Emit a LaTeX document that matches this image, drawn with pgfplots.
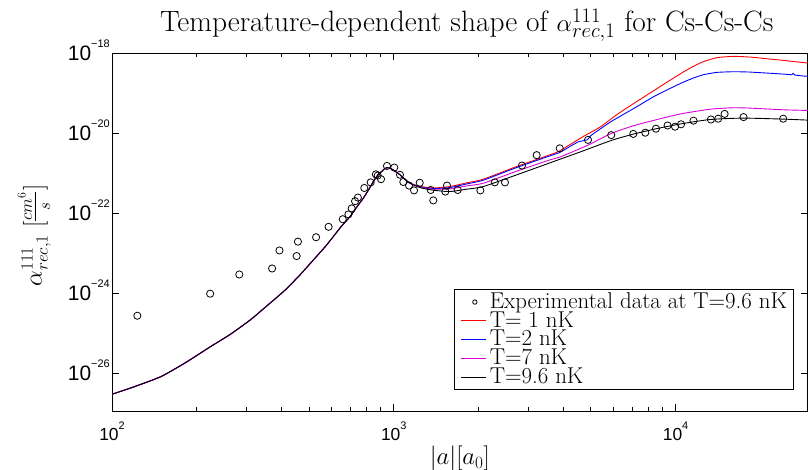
\documentclass[border=0pt]{standalone}
\usepackage{pgfplots}
\pgfplotsset{compat=1.18}
\usepackage{fontspec}
\newfontfamily\hel{Liberation Sans}
\definecolor{mymag}{rgb}{0.85,0,0.85}
\newcommand{\tk}[4]{\mbox{\hel\fontsize{#1}{#1}\selectfont 10\raisebox{#3}{\fontsize{#2}{#2}\selectfont #4}}}
\begin{document}
\begin{tikzpicture}
\useasboundingbox (0bp,0bp) rectangle (808bp,470bp);
\begin{axis}[
  at={(112bp,59bp)}, anchor=south west,
  width=695.5bp, height=358bp, scale only axis,
  xmode=log, ymode=log,
  xmin=100, xmax=29400, ymin=1.15e-27, ymax=1e-18,
  axis line style={line width=1bp, black},
  tick style={line width=0.8bp, black},
  major tick length=7bp, minor tick length=4bp,
  ytick={1e-26,1e-24,1e-22,1e-20,1e-18},
  yminorticks=false,
  yticklabels={\tk{21}{11}{13bp}{−26},\tk{21}{11}{13bp}{−24},\tk{21}{11}{13bp}{−22},\tk{21}{11}{13bp}{−20},\tk{21}{11}{13bp}{−18}},
  yticklabel style={anchor=base east, yshift=-7.6bp, inner sep=2bp},
  xtick={100,1000,10000},
  xticklabels={\tk{17.5}{11}{11bp}{2},\tk{17.5}{11}{11bp}{3},\tk{17.5}{11}{11bp}{4}},
  xticklabel style={anchor=base, yshift=-29.3bp, inner sep=0bp},
  every axis title/.style={at={(axis description cs:0.5,1)}, anchor=base, yshift=22bp, xshift=7bp, font=\fontsize{29.5}{32}\selectfont},
  title={Temperature-dependent shape of $\alpha^{111}_{rec,1}$ for Cs-Cs-Cs},
  every axis x label/.style={at={(axis description cs:0.5,0)}, anchor=base, yshift=-53.5bp, font=\fontsize{25}{30}\selectfont},
  xlabel={$|a|[a_0]$},
  every axis y label/.style={at={(axis description cs:-0.1115,0.49)}, anchor=center, rotate=90, font=\fontsize{24}{28}\selectfont},
  ylabel={$\alpha^{111}_{rec,1}\;\Biggl[\frac{cm^6}{s}\Biggr]$},
  legend style={at={(axis description cs:0.980,0.0587)}, anchor=south east,
    font=\fontsize{23}{23}\selectfont, line width=1bp,
    inner xsep=6bp, inner ysep=3bp, row sep=0.3bp,
    nodes={inner sep=0bp, text height=15.5bp, text depth=3bp}},
  legend cell align=left,
]
\addlegendimage{legend image code/.code={\draw[draw=black, line width=0.8bp] (13.5bp,0bp) circle (2.2bp); \path[draw=none] (0bp,0bp) (28.4bp,0bp);}}
\addlegendentry{Experimental data at T=9.6 nK}
\addlegendimage{legend image code/.code={\draw[draw=red, line width=1.1bp] (0bp,0bp) -- (25bp,0bp); \path[draw=none] (28.4bp,0bp);}}
\addlegendentry{T= 1 nK}
\addlegendimage{legend image code/.code={\draw[draw=blue, line width=1.1bp] (0bp,0bp) -- (25bp,0bp); \path[draw=none] (28.4bp,0bp);}}
\addlegendentry{T=2 nK}
\addlegendimage{legend image code/.code={\draw[draw=mymag, line width=1.1bp] (0bp,0bp) -- (25bp,0bp); \path[draw=none] (28.4bp,0bp);}}
\addlegendentry{T=7 nK}
\addlegendimage{legend image code/.code={\draw[draw=black, line width=1.1bp] (0bp,0bp) -- (25bp,0bp); \path[draw=none] (28.4bp,0bp);}}
\addlegendentry{T=9.6 nK}
\addplot[only marks, mark=o, mark size=3.6bp, line width=0.8bp, black, forget plot]
  coordinates {
  (123,2.754e-25) (223,9.77e-25) (283,2.951e-24) (370,4.169e-24) (393,1.175e-23)
  (452,8.51e-24) (457,1.95e-23) (530,2.512e-23) (587,4.571e-23) (659,7.079e-23)
  (690,9.333e-23) (709,1.318e-22) (729,1.995e-22) (746,2.455e-22) (786,4.266e-22)
  (828,5.888e-22) (864,9.333e-22) (877,8.710e-22) (901,7.079e-22) (946,1.514e-21)
  (1004,1.380e-21) (1052,9.12e-22) (1081,6.026e-22) (1133,4.898e-22) (1180,3.715e-22)
  (1236,5.754e-22) (1352,3.802e-22) (1381,2.089e-22) (1524,3.467e-22) (1545,4.898e-22)
  (1686,3.802e-22) (2029,3.715e-22) (2282,5.888e-22) (2481,5.888e-22) (2851,1.549e-21)
  (3215,2.818e-21) (3882,4.169e-21) (4889,6.761e-21) (5912,8.913e-21) (7080,9.55e-21)
  (7810,1.023e-20) (8520,1.288e-20) (9370,1.549e-20) (9960,1.445e-20) (10460,1.660e-20)
  (11580,2.042e-20) (13350,2.188e-20) (14170,2.291e-20) (14930,3.020e-20) (17430,2.512e-20)
  (24100,2.291e-20)
  };
\addplot[color=red, line width=0.9bp, smooth, tension=0.4, forget plot] coordinates {
  (100,3.02e-27) (115.9,4.27e-27) (136.4,6.46e-27) (151.7,8.81e-27) (181.6,1.82e-26) (222.7,4.57e-26) (262.2,9.33e-26) (308.9,2.14e-25) (357.8,5.13e-25) (411.2,1.20e-24) (464.7,2.88e-24) (518.0,6.76e-24) (570.1,1.44e-23) (610.0,2.60e-23) (649.5,4.57e-23) (699.3,8.22e-23) (740.4,1.45e-22) (779.5,2.37e-22) (813.3,3.80e-22) (845.9,6.17e-22) (879.0,9.12e-22) (906.1,1.10e-21) (926.9,1.29e-21) (946.0,1.38e-21) (969.4,1.33e-21) (995.9,1.20e-21) (1052,9.12e-22) (1096,7.00e-22) (1141,5.62e-22)
  (1239,4.677e-22) (1381,4.266e-22) (1583,4.634e-22) (1814,5.728e-22) (2078,7.063e-22) (2730,1.466e-21) (3583,2.868e-21) (3879,3.606e-21) (4705,8.238e-21) (5392,1.409e-20) (6180,2.868e-20) (7079,5.401e-20) (8115,9.98e-20) (9299,1.845e-19) (10648,3.344e-19) (11557,4.634e-19) (12541,6.06e-19) (13991,7.627e-19) (16023,8.241e-19) (18365,7.925e-19) (21055,7.2e-19) (24118,6.546e-19) (29430,5.610e-19)
  };
\addplot[color=blue, line width=0.9bp, smooth, tension=0.3, forget plot] coordinates {
  (100,3.02e-27) (115.9,4.27e-27) (136.4,6.46e-27) (151.7,8.81e-27) (181.6,1.82e-26) (222.7,4.57e-26) (262.2,9.33e-26) (308.9,2.14e-25) (357.8,5.13e-25) (411.2,1.20e-24) (464.7,2.88e-24) (518.0,6.76e-24) (570.1,1.44e-23) (610.0,2.60e-23) (649.5,4.57e-23) (699.3,8.22e-23) (740.4,1.45e-22) (779.5,2.37e-22) (813.3,3.80e-22) (845.9,6.17e-22) (879.0,9.12e-22) (906.1,1.10e-21) (926.9,1.29e-21) (946.0,1.38e-21) (969.4,1.33e-21) (995.9,1.20e-21) (1052,9.12e-22) (1096,7.00e-22) (1141,5.62e-22)
  (1239,4.571e-22) (1381,4.121e-22) (1583,4.375e-22) (1814,5.370e-22) (2078,6.668e-22) (2730,1.384e-21) (3583,2.707e-21) (3879,3.281e-21) (4221,4.634e-21) (4516,6.06e-21) (4861,6.8e-21) (4969,8.238e-21) (5105,9.605e-21) (5913,1.954e-20) (7079,4.050e-20) (8521,8.726e-20) (10476,1.775e-19) (11557,2.367e-19) (12541,2.868e-19) (13991,3.280e-19) (16023,3.409e-19) (18365,3.344e-19) (24118,2.980e-19) (25823,2.868e-19) (26164,3.097e-19) (26528,2.812e-19) (29430,2.606e-19)
  };
\addplot[color=mymag, line width=0.9bp, smooth, tension=0.4, forget plot] coordinates {
  (100,3.02e-27) (115.9,4.27e-27) (136.4,6.46e-27) (151.7,8.81e-27) (181.6,1.82e-26) (222.7,4.57e-26) (262.2,9.33e-26) (308.9,2.14e-25) (357.8,5.13e-25) (411.2,1.20e-24) (464.7,2.88e-24) (518.0,6.76e-24) (570.1,1.44e-23) (610.0,2.60e-23) (649.5,4.57e-23) (699.3,8.22e-23) (740.4,1.45e-22) (779.5,2.37e-22) (813.3,3.80e-22) (845.9,6.17e-22) (879.0,9.12e-22) (906.1,1.10e-21) (926.9,1.29e-21) (946.0,1.38e-21) (969.4,1.33e-21) (995.9,1.20e-21) (1052,9.12e-22) (1096,7.00e-22) (1141,5.62e-22)
  (1239,4.467e-22) (1381,3.981e-22) (1583,4.046e-22) (1814,4.808e-22) (2078,5.610e-22) (2730,1.120e-21) (3583,2.150e-21) (3879,2.506e-21) (4888,5.000e-21) (5913,9.795e-21) (7079,1.522e-20) (8521,2.150e-20) (10476,3.038e-20) (13356,3.974e-20) (16023,4.290e-20) (18365,4.209e-20) (24118,3.824e-20) (29430,3.681e-20)
  };
\addplot[color=black, line width=0.9bp, smooth, tension=0.4, forget plot] coordinates {
  (100,3.02e-27) (115.9,4.27e-27) (136.4,6.46e-27) (151.7,8.81e-27) (181.6,1.82e-26) (222.7,4.57e-26) (262.2,9.33e-26) (308.9,2.14e-25) (357.8,5.13e-25) (411.2,1.20e-24) (464.7,2.88e-24) (518.0,6.76e-24) (570.1,1.44e-23) (610.0,2.60e-23) (649.5,4.57e-23) (699.3,8.22e-23) (740.4,1.45e-22) (779.5,2.37e-22) (813.3,3.80e-22) (845.9,6.17e-22) (879.0,9.12e-22) (906.1,1.10e-21) (926.9,1.29e-21) (946.0,1.38e-21) (969.4,1.33e-21) (995.9,1.20e-21) (1052,9.12e-22) (1096,7.00e-22) (1141,5.62e-22)
  (1239,4.365e-22) (1381,3.758e-22) (1583,3.475e-22) (1814,3.981e-22) (2078,4.634e-22) (2730,9.07e-22) (3583,1.809e-21) (4705,3.610e-21) (5913,6.546e-21) (7079,9.423e-21) (8521,1.281e-20) (10476,1.708e-20) (13356,2.192e-20) (17397,2.367e-20) (24118,2.235e-20) (29430,2.110e-20)
  };
\end{axis}
\end{tikzpicture}
\end{document}
